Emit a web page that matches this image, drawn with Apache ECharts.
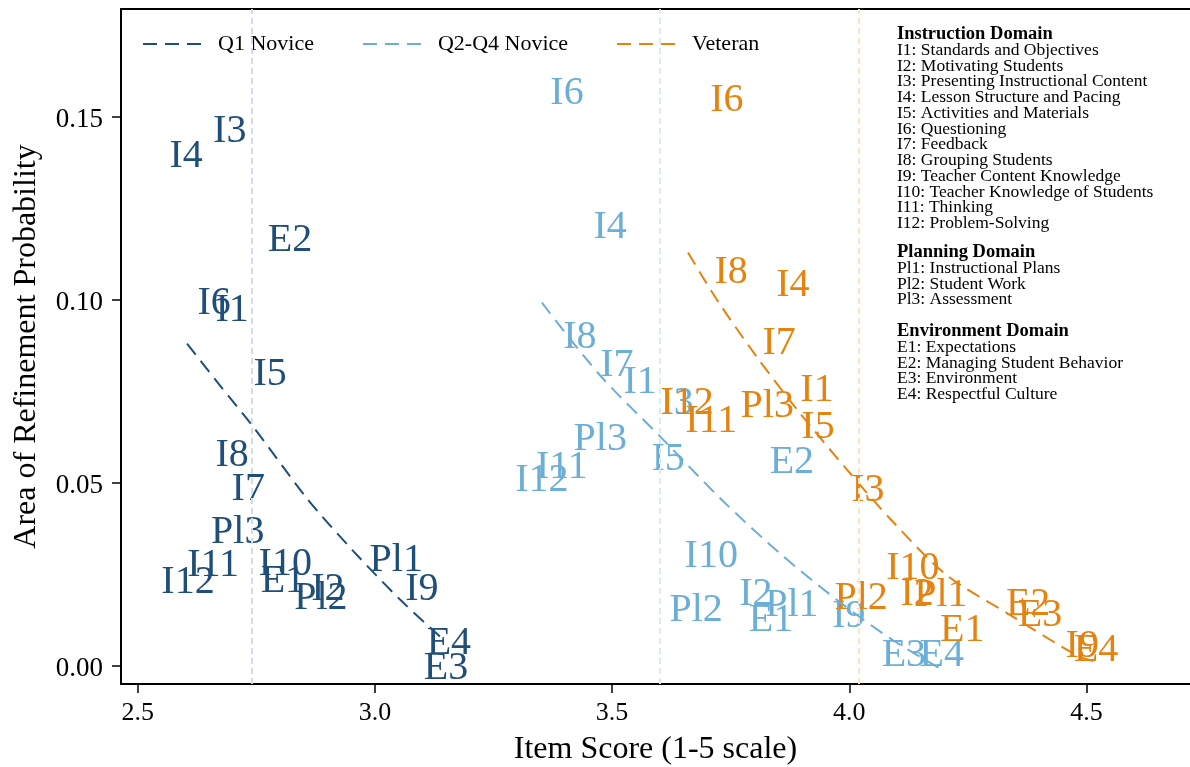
<!DOCTYPE html>
<html>
<head>
<meta charset="utf-8">
<script src="https://cdn.jsdelivr.net/npm/echarts@6/dist/echarts.min.js"></script>
<style>
  html, body { margin: 0; padding: 0; background: #fff; }
  #chart { width: 1190px; height: 767px; }
</style>
</head>
<body>
<div id="chart"></div>
<script>
// item labels and positions
const q1Labels = ['I3', 'I4', 'E2', 'I6', 'I1', 'I5', 'I8', 'I7', 'Pl3', 'I11', 'I12', 'I10', 'E1', 'I2', 'Pl2', 'Pl1', 'I9', 'E4', 'E3']
const q1Score = [2.694, 2.602, 2.821, 2.661, 2.699, 2.779, 2.699, 2.733, 2.711, 2.659, 2.606, 2.811, 2.806, 2.901, 2.886, 3.045, 3.099, 3.156, 3.150]
const q1Prob = [0.1468, 0.1399, 0.1169, 0.0996, 0.0977, 0.0802, 0.0581, 0.0488, 0.0371, 0.0281, 0.0234, 0.0283, 0.0237, 0.0215, 0.0190, 0.0294, 0.0215, 0.0067, 0.0000]

const q24Labels = ['I6', 'I4', 'I8', 'I7', 'I1', 'I3', 'Pl3', 'I11', 'I12', 'I5', 'E2', 'I10', 'Pl2', 'I2', 'Pl1', 'E1', 'I9', 'E3', 'E4']
const q24Score = [3.405, 3.496, 3.432, 3.510, 3.559, 3.637, 3.475, 3.394, 3.352, 3.618, 3.879, 3.709, 3.677, 3.803, 3.879, 3.835, 3.999, 4.115, 4.195]
const q24Prob = [0.1570, 0.1204, 0.0904, 0.0827, 0.0781, 0.0723, 0.0625, 0.0548, 0.0513, 0.0570, 0.0562, 0.0305, 0.0158, 0.0201, 0.0171, 0.0130, 0.0141, 0.0035, 0.0035]

const vetLabels = ['I6', 'I8', 'I4', 'I7', 'I1', 'Pl3', 'I5', 'I12', 'I11', 'I3', 'I10', 'I2', 'Pl1', 'Pl2', 'E1', 'E2', 'E3', 'I9', 'E4']
const vetScore = [3.742, 3.751, 3.881, 3.852, 3.932, 3.827, 3.934, 3.658, 3.709, 4.039, 4.134, 4.143, 4.193, 4.025, 4.238, 4.377, 4.402, 4.491, 4.520]
const vetProb = [0.1551, 0.1081, 0.1046, 0.0887, 0.0759, 0.0715, 0.0658, 0.0723, 0.0674, 0.0486, 0.0272, 0.0201, 0.0199, 0.0190, 0.0103, 0.0174, 0.0144, 0.0059, 0.0048]

// dashed fitted curves
const q1FitX = [2.604, 2.674, 2.743, 2.857, 2.954, 3.053, 3.137]
const q1FitY = [0.0879, 0.0764, 0.0653, 0.0456, 0.0313, 0.0180, 0.0079]
const q24FitX = [3.352, 3.475, 3.606, 3.733, 3.859, 3.984, 4.093, 4.203]
const q24FitY = [0.0991, 0.0792, 0.0619, 0.0450, 0.0300, 0.0169, 0.0068, -0.0017]
const vetFitX = [3.660, 3.721, 3.805, 3.890, 3.995, 4.088, 4.204, 4.335, 4.480, 4.514]
const vetFitY = [0.1128, 0.0999, 0.0843, 0.0699, 0.0535, 0.0398, 0.0248, 0.0141, 0.0027, 0.0012]

// group mean item scores (dotted verticals)
const q1Mean = 2.743
const q24Mean = 3.599
const vetMean = 4.021

const xTicks = [2.5, 3.0, 3.5, 4.0, 4.5]
const yTicks = [0, 0.05, 0.10, 0.15]

const instructionItems = ['I1: Standards and Objectives', 'I2: Motivating Students', 'I3: Presenting Instructional Content', 'I4: Lesson Structure and Pacing', 'I5: Activities and Materials', 'I6: Questioning', 'I7: Feedback', 'I8: Grouping Students', 'I9: Teacher Content Knowledge', 'I10: Teacher Knowledge of Students', 'I11: Thinking', 'I12: Problem-Solving']
const planningItems = ['Pl1: Instructional Plans', 'Pl2: Student Work', 'Pl3: Assessment']
const environmentItems = ['E1: Expectations', 'E2: Managing Student Behavior', 'E3: Environment', 'E4: Respectful Culture']

const FONT = '"Liberation Serif", "DejaVu Serif", serif'
const NAVY = '#1f4e79'
const LIGHT = '#6baed6'
const ORANGE = '#e6820e'

const zip = (xs, ys, names) => xs.map((x, i) => names ? [x, ys[i], names[i]] : [x, ys[i]])

function labelSeries (name, xs, ys, names, color, mean, meanColor) {
  return {
    name: name,
    type: 'scatter',
    symbolSize: 1,
    itemStyle: { color: 'rgba(0,0,0,0)', opacity: 1 },
    data: zip(xs, ys, names),
    label: {
      show: true,
      position: 'inside',
      offset: [0, 3],
      formatter: p => p.value[2],
      color: color,
      opacity: 1,
      fontFamily: FONT,
      fontSize: 40
    },
    markLine: {
      silent: true,
      symbol: ['none', 'none'],
      label: { show: false },
      lineStyle: { color: meanColor, width: 2, type: [6, 4] },
      data: [{ xAxis: mean }]
    }
  }
}

function fitSeries (name, xs, ys, color) {
  return {
    name: name,
    type: 'line',
    smooth: 0.3,
    symbol: 'none',
    lineStyle: { color: color, width: 2, type: [14, 8] },
    itemStyle: { color: color },
    data: zip(xs, ys)
  }
}

function noteBlock (top, title, items) {
  return {
    type: 'text',
    left: 897,
    top: top,
    style: {
      text: '{h|' + title + '}\n' + items.join('\n'),
      font: '17.5px ' + FONT,
      fill: '#000',
      lineHeight: 15.75,
      rich: { h: { fontWeight: 'bold', fontSize: 18.5, fontFamily: FONT, lineHeight: 15.75 } }
    }
  }
}

const chart = echarts.init(document.getElementById('chart'))
chart.setOption({
  animation: false,
  grid: { left: 121, right: 0, top: 9, bottom: 83, outerBoundsMode: 'none', containLabel: false },
  xAxis: [{
    type: 'value',
    min: 2.4648,
    max: 4.7182,
    name: 'Item Score (1-5 scale)',
    nameLocation: 'middle',
    nameGap: 50,
    nameTextStyle: { fontFamily: FONT, fontSize: 32, color: '#000' },
    axisLine: { onZero: false, lineStyle: { color: '#000', width: 2 } },
    axisTick: { length: 9, lineStyle: { color: '#000', width: 1.5 }, customValues: xTicks },
    axisLabel: { fontFamily: FONT, fontSize: 26, color: '#000', margin: 16, customValues: xTicks, formatter: v => v.toFixed(1) },
    splitLine: { show: false }
  }, {
    type: 'value',
    position: 'top',
    min: 2.4648,
    max: 4.7182,
    axisLine: { onZero: false, lineStyle: { color: '#000', width: 2 } },
    axisTick: { show: false },
    axisLabel: { show: false },
    splitLine: { show: false }
  }],
  yAxis: {
    type: 'value',
    min: -0.00508,
    max: 0.17934,
    name: 'Area of Refinement Probability',
    nameLocation: 'middle',
    nameGap: 78,
    nameTextStyle: { fontFamily: FONT, fontSize: 32, color: '#000' },
    axisLine: { onZero: false, lineStyle: { color: '#000', width: 2 } },
    axisTick: { length: 9, lineStyle: { color: '#000', width: 1.5 }, customValues: yTicks },
    axisLabel: {
      fontFamily: FONT, fontSize: 27, color: '#000', margin: 18, customValues: yTicks,
      formatter: v => '{t|' + v.toFixed(2) + '}',
      rich: { t: { fontFamily: FONT, fontSize: 27, color: '#000', padding: [7, 0, 0, 0] } }
    },
    splitLine: { show: false }
  },
  legend: {
    data: ['Q1 Novice', 'Q2-Q4 Novice', 'Veteran'],
    left: 127,
    top: 19,
    padding: [14, 15, 14, 15],
    backgroundColor: '#fff',
    itemWidth: 59,
    itemHeight: 14,
    itemGap: 48,
    itemStyle: { color: 'rgba(0,0,0,0)', borderWidth: 0, opacity: 0 },
    textStyle: { fontFamily: FONT, fontSize: 22, color: '#000', padding: [0, 0, 0, 11] }
  },
  graphic: [
    noteBlock(25, 'Instruction Domain', instructionItems),
    noteBlock(243, 'Planning Domain', planningItems),
    noteBlock(322, 'Environment Domain', environmentItems)
  ],
  series: [
    labelSeries('Q1 labels', q1Score, q1Prob, q1Labels, NAVY, q1Mean, '#d3dce6'),
    labelSeries('Q2-Q4 labels', q24Score, q24Prob, q24Labels, LIGHT, q24Mean, '#dbebf5'),
    labelSeries('Veteran labels', vetScore, vetProb, vetLabels, ORANGE, vetMean, '#fbe3cb'),
    fitSeries('Q1 Novice', q1FitX, q1FitY, NAVY),
    fitSeries('Q2-Q4 Novice', q24FitX, q24FitY, LIGHT),
    fitSeries('Veteran', vetFitX, vetFitY, ORANGE)
  ]
})

window.onresize = function () {
  chart.resize()
}
</script>
</body>
</html>
